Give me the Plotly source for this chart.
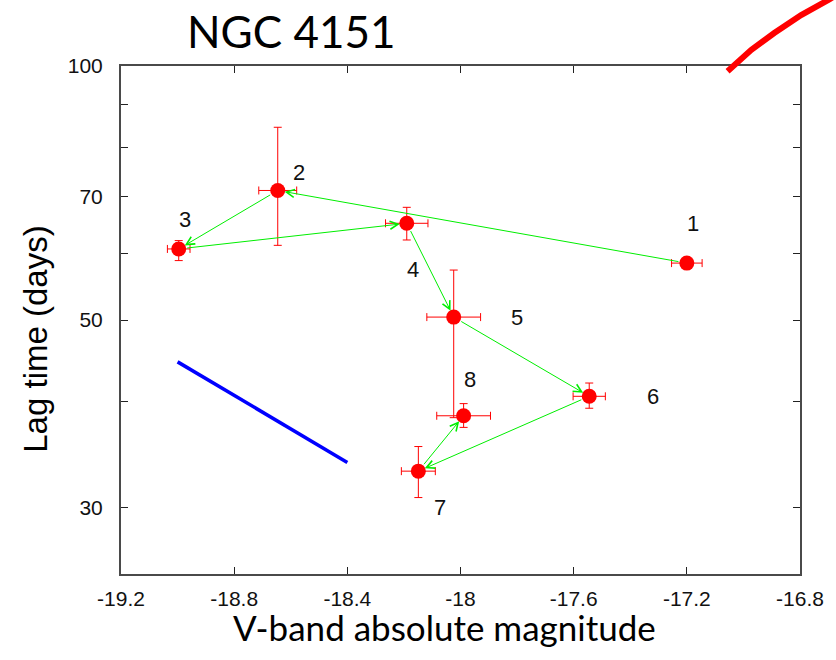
import math
import plotly.graph_objects as go

# ---- data ----
epochs = ["1", "2", "3", "4", "5", "6", "7", "8"]
mag_v = [-17.20, -18.646, -18.996, -18.19, -18.024, -17.545, -18.149, -17.989]
lag_days = [58.4, 71.2, 60.7, 65.1, 50.4, 40.6, 33.1, 38.5]
mag_err = [0.054, 0.067, 0.040, 0.075, 0.095, 0.057, 0.060, 0.095]
lag_err_plus = [0.8, 13.4, 1.4, 2.9, 6.9, 1.5, 2.3, 1.3]
lag_err_minus = [0.8, 9.9, 1.9, 2.9, 12.1, 1.3, 2.3, 1.2]

blue_x = [-19.00, -18.40]
blue_y = [44.6, 33.9]

curve_x = [-17.056, -16.972, -16.891, -16.796, -16.695, -16.67]
curve_y = [98.6, 104.5, 109.4, 114.9, 120.0, 121.5]

x_ticks = [-19.2, -18.8, -18.4, -18.0, -17.6, -17.2, -16.8]
x_ticktext = ["-19.2", "-18.8", "-18.4", "-18", "-17.6", "-17.2", "-16.8"]
y_ticks = [30, 40, 50, 60, 70, 80, 90, 100]
y_ticktext = ["30", "", "50", "", "70", "", "", "100"]

X_RANGE = [-19.2, -16.8]
Y_RANGE = [25, 100]

# label offsets (px) relative to each point: (dx right, dy up)
label_offsets = [(6, 40), (21, 18), (6, 29), (6, -46), (63, 0), (64, 0), (22, -36), (6, 36)]

RED = "#ff0000"
GREEN = "#00ee00"
AXIS = "#4a4a4a"

W, H = 836, 660
ML, MR, MT, MB = 121, 30, 66, 86
PW, PH = W - ML - MR, H - MT - MB


def px_to_paper_x(px):
    return (px - ML) / PW


def py_to_paper_y(py):
    return (H - MB - py) / PH


def data_to_paper(xv, yv):
    xp = (xv - X_RANGE[0]) / (X_RANGE[1] - X_RANGE[0])
    lo, hi = math.log10(Y_RANGE[0]), math.log10(Y_RANGE[1])
    yp = (math.log10(yv) - lo) / (hi - lo)
    return xp, yp


fig = go.Figure()

fig.add_trace(go.Scatter(
    x=blue_x, y=blue_y, mode="lines",
    line=dict(color="#0000ff", width=3.5), showlegend=False, hoverinfo="skip"))

fig.add_trace(go.Scatter(
    x=mag_v, y=lag_days, mode="markers",
    marker=dict(color=RED, size=15, line=dict(width=0)),
    error_x=dict(type="data", array=mag_err, color=RED, thickness=1, width=4),
    error_y=dict(type="data", array=lag_err_plus, arrayminus=lag_err_minus,
                 color=RED, thickness=1, width=4),
    showlegend=False))

# red curve leaving the frame at the top right (unclipped, so drawn as a paper shape)
pts = [data_to_paper(a, b) for a, b in zip(curve_x, curve_y)]
path = "M " + " L ".join(f"{p[0]:.5f},{p[1]:.5f}" for p in pts)
shapes = [dict(type="path", path=path, xref="paper", yref="paper",
               line=dict(color=RED, width=6), layer="above")]

annotations = []
# green arrows between successive epochs
for i in range(len(mag_v) - 1):
    annotations.append(dict(
        x=mag_v[i + 1], y=math.log10(lag_days[i + 1]), xref="x", yref="y",
        ax=mag_v[i], ay=math.log10(lag_days[i]), axref="x", ayref="y",
        showarrow=True, arrowhead=5, arrowsize=1.6, arrowwidth=1,
        arrowcolor=GREEN, standoff=7, startstandoff=7, text=""))

# epoch labels
for i, lab in enumerate(epochs):
    dx, dy = label_offsets[i]
    annotations.append(dict(
        x=mag_v[i], y=math.log10(lag_days[i]), xref="x", yref="y",
        text=lab, showarrow=False, xshift=dx, yshift=dy,
        font=dict(family="Liberation Sans, Arial", size=22, color="#111111")))

# title and axis titles
annotations.append(dict(
    x=px_to_paper_x(292), y=py_to_paper_y(31), xref="paper", yref="paper",
    text="NGC 4151", showarrow=False, xanchor="center", yanchor="middle",
    font=dict(family="Lato", size=44, color="#000000")))
annotations.append(dict(
    x=px_to_paper_x(447), y=py_to_paper_y(627), xref="paper", yref="paper",
    text="V-band absolute magnitude", showarrow=False, xanchor="center", yanchor="middle",
    font=dict(family="Lato", size=35, color="#000000")))
annotations.append(dict(
    x=px_to_paper_x(35), y=py_to_paper_y(339), xref="paper", yref="paper",
    text="Lag time (days)", showarrow=False, xanchor="center", yanchor="middle",
    textangle=-90,
    font=dict(family="Liberation Sans, Arial", size=33, color="#000000")))

fig.update_layout(
    width=W, height=H,
    margin=dict(l=ML, r=MR, t=MT, b=MB),
    paper_bgcolor="white", plot_bgcolor="white",
    annotations=annotations, shapes=shapes,
    xaxis=dict(
        range=X_RANGE, tickvals=x_ticks, ticktext=x_ticktext,
        ticks="inside", ticklen=7, tickwidth=1, tickcolor="#222222",
        showline=True, linewidth=2, linecolor=AXIS, mirror="ticks",
        showgrid=False, zeroline=False, ticklabelstandoff=5,
        tickfont=dict(family="Liberation Sans, Arial", size=21, color="#111111")),
    yaxis=dict(
        type="log", range=[math.log10(Y_RANGE[0]), math.log10(Y_RANGE[1])],
        tickvals=y_ticks, ticktext=y_ticktext,
        ticks="inside", ticklen=7, tickwidth=1, tickcolor="#222222",
        showline=True, linewidth=2, linecolor=AXIS, mirror="ticks",
        showgrid=False, zeroline=False, ticklabelstandoff=12,
        tickfont=dict(family="Liberation Sans, Arial", size=21, color="#111111")),
)

fig.write_html("out.html")
